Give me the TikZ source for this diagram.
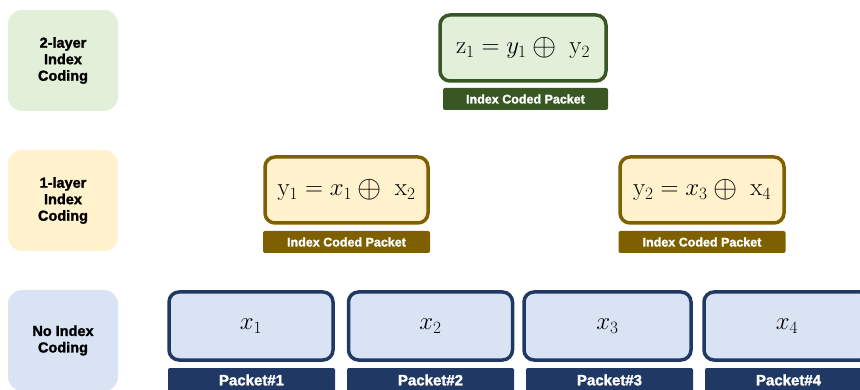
\documentclass[tikz,border=0pt]{standalone}
\usepackage{fontspec}
\usepackage{graphicx}
\newfontfamily\lblfont{Liberation Sans Bold}[FakeBold=1.6]
\newcommand{\bxor}{\mathbin{\raisebox{-0.12ex}{\scalebox{1.25}{$\oplus$}}}}
\definecolor{gfill}{HTML}{E2F0D9}
\definecolor{gline}{HTML}{385723}
\definecolor{yfill}{HTML}{FFF2CC}
\definecolor{yline}{HTML}{7F6000}
\definecolor{bfill}{HTML}{DAE3F3}
\definecolor{bline}{HTML}{203864}
\tikzset{
  levelbox/.style={rounded corners=14pt, minimum width=110pt, minimum height=101pt, inner sep=0pt,
    align=center, font=\lblfont\fontsize{14.5}{16.5}\selectfont},
  pktbox/.style={draw=#1, line width=3.5pt, rounded corners=10pt, inner sep=0pt,
    minimum height=66pt, font=\fontsize{25}{30}\selectfont},
  tagbar/.style={fill=#1, rounded corners=2pt, inner sep=0pt, text=white,
    font=\lblfont\fontsize{12.5}{14}\selectfont, minimum height=22pt},
  pkttag/.style={tagbar=bline, minimum width=167pt, minimum height=24pt,
    font=\lblfont\fontsize{15}{17}\selectfont},
}
\begin{document}
\begin{tikzpicture}[x=1pt,y=-1pt]
\useasboundingbox (0,0) rectangle (860,390);
\clip (0,0) rectangle (860,390);
% level labels
\node[levelbox, fill=gfill] (l2) at (63,60.5) {2-layer\\Index\\Coding};
\node[levelbox, fill=yfill] (l1) at (63,200.5) {1-layer\\Index\\Coding};
\node[levelbox, fill=bfill] (l0) at (63,340.5) {No Index\\Coding};
% top
\node[pktbox=gline, fill=gfill, minimum width=166pt] (z1) at (523,48) {$\mathrm{z}_1 = y_1 \bxor\ \mathrm{y}_2$};
\node[tagbar=gline, minimum width=165pt] (z1t) at (525.5,99) {Index Coded Packet};
% middle
\node[pktbox=yline, fill=yfill, minimum width=163pt] (y1) at (346.5,190) {$\mathrm{y}_1 = x_1 \bxor\ \mathrm{x}_2$};
\node[tagbar=yline, minimum width=167pt] (y1t) at (346.5,242) {Index Coded Packet};
\node[pktbox=yline, fill=yfill, minimum width=164pt] (y2) at (702,190) {$\mathrm{y}_2 = x_3 \bxor\ \mathrm{x}_4$};
\node[tagbar=yline, minimum width=167pt] (y2t) at (702,242) {Index Coded Packet};
% bottom
\node[pktbox=bline, fill=bfill, minimum width=164pt, minimum height=68pt] (x1) at (251,326) {$x_1$};
\node[pkttag] (p1) at (251.5,380) {Packet\#1};
\node[pktbox=bline, fill=bfill, minimum width=164pt, minimum height=68pt] (x2) at (430.5,326) {$x_2$};
\node[pkttag] (p2) at (430.5,380) {Packet\#2};
\node[pktbox=bline, fill=bfill, minimum width=167pt, minimum height=68pt] (x3) at (607.5,326) {$x_3$};
\node[pkttag] (p3) at (609.5,380) {Packet\#3};
\node[pktbox=bline, fill=bfill, minimum width=166pt, minimum height=68pt] (x4) at (787,326) {$x_4$};
\node[pkttag] (p4) at (788.5,380) {Packet\#4};
\end{tikzpicture}
\end{document}
